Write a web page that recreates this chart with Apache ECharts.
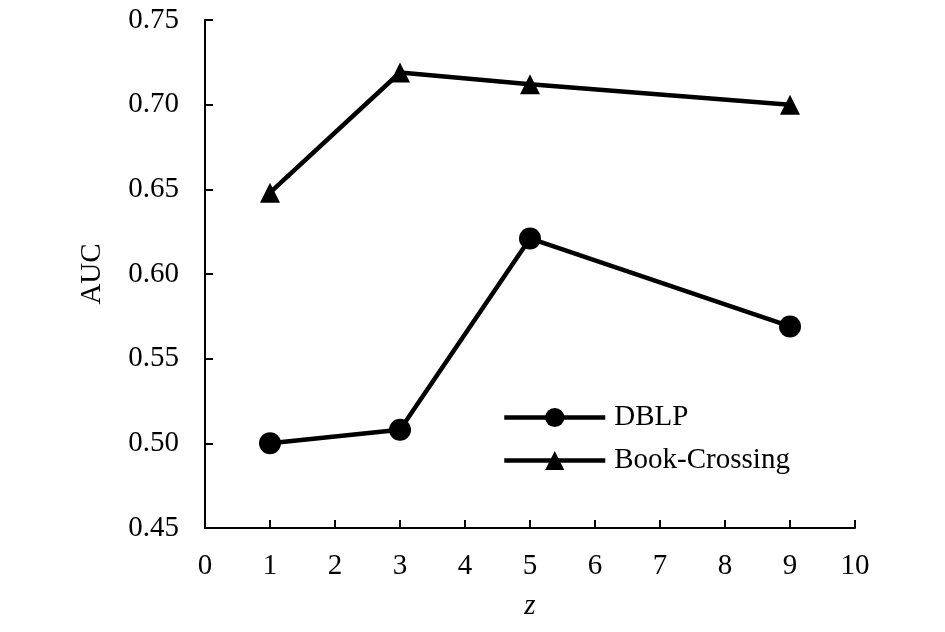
<!DOCTYPE html>
<html><head><meta charset="utf-8">
<script src="https://cdn.jsdelivr.net/npm/echarts@6/dist/echarts.min.js"></script>
<style>html,body{margin:0;padding:0;background:#fff}#c{width:945px;height:632px}</style>
</head><body><div id="c"></div>
<script>
const zValues = [1, 3, 5, 9];
const dblp = [0.500, 0.508, 0.621, 0.569];
const bookCrossing = [0.648, 0.719, 0.712, 0.700];
const seriesNames = ['DBLP', 'Book-Crossing'];

const font = 'Liberation Serif, Times New Roman, serif';
const chart = echarts.init(document.getElementById('c'));
chart.setOption({
  animation: false,
  backgroundColor: '#fff',
  grid: {left: 205, right: 90, top: 20, bottom: 104},
  legend: {
    orient: 'vertical', left: 497, top: 398, itemWidth: 101, itemHeight: 24, itemGap: 14,
    lineStyle: {width: 4.5, color: '#000'},
    textStyle: {fontFamily: font, fontSize: 29, color: '#000', padding: [0,0,0,4]},
    data: seriesNames
  },
  xAxis: {
    type: 'value', min: 0, max: 10, interval: 1,
    name: 'z', nameLocation: 'middle', nameGap: 64,
    nameTextStyle: {fontFamily: font, fontSize: 29, fontStyle: 'italic', color: '#000'},
    axisLine: {lineStyle: {color: '#000', width: 2}},
    axisTick: {inside: true, length: 8, lineStyle: {color: '#000', width: 2}},
    axisLabel: {fontFamily: font, fontSize: 29, color: '#000', margin: 24},
    splitLine: {show: false}
  },
  yAxis: {
    type: 'value', min: 0.45, max: 0.75, interval: 0.05,
    name: 'AUC', nameLocation: 'middle', nameGap: 98, nameRotate: 90,
    nameTextStyle: {fontFamily: font, fontSize: 29, color: '#000'},
    axisLine: {show: true, lineStyle: {color: '#000', width: 2}},
    axisTick: {show: true, inside: true, length: 8, lineStyle: {color: '#000', width: 2}},
    axisLabel: {fontFamily: font, fontSize: 29, color: '#000', margin: 26, formatter: v => v.toFixed(2)},
    splitLine: {show: false}
  },
  series: [
    {name: seriesNames[0], type: 'line', data: zValues.map((z,i)=>[z, dblp[i]]),
     symbol: 'circle', symbolSize: 22, lineStyle: {color: '#000', width: 4.5},
     itemStyle: {color: '#000'}},
    {name: seriesNames[1], type: 'line', data: zValues.map((z,i)=>[z, bookCrossing[i]]),
     symbol: 'triangle', symbolSize: 20, lineStyle: {color: '#000', width: 4.5},
     itemStyle: {color: '#000'}}
  ]
});
</script></body></html>
